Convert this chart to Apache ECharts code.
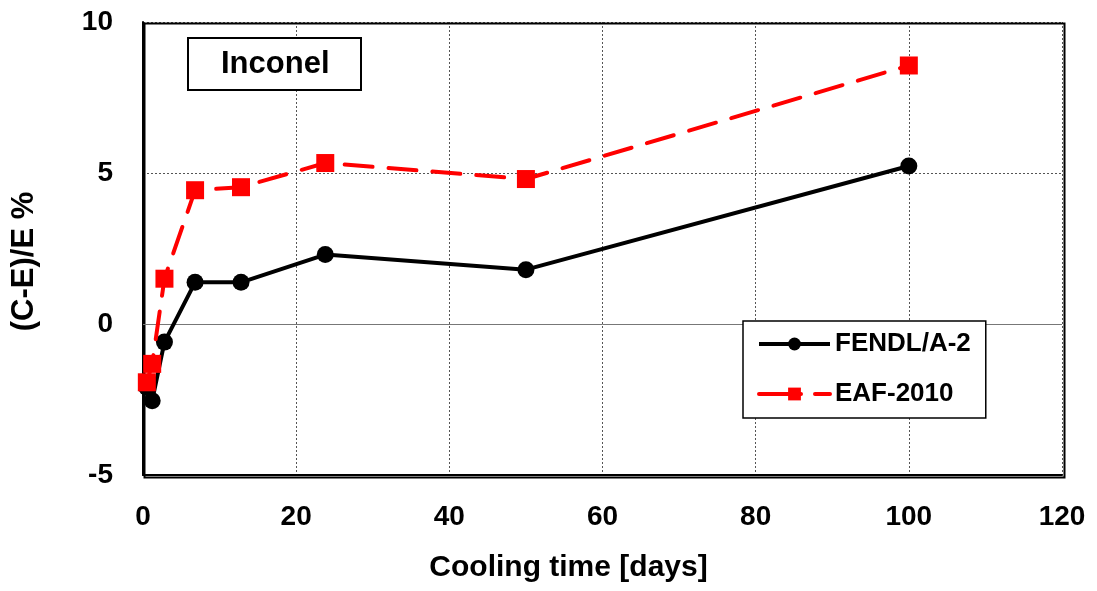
<!DOCTYPE html>
<html>
<head>
    <meta charset="UTF-8">
    <title>Inconel C/E</title>
    <script src="https://cdn.jsdelivr.net/npm/echarts@6/dist/echarts.min.js"></script>
    <style>html,body{margin:0;padding:0;background:#fff;} #chart{width:1097px;height:591px;}</style>
</head>
<body>
<div id="chart"></div>
<script>
    // cooling time [days]
    var coolingDays = [0.5, 1.2, 2.8, 6.8, 12.8, 23.8, 50, 100];
    var fendlValues = [-2.1, -2.54, -0.6, 1.38, 1.38, 2.3, 1.8, 5.23];
    var eafValues = [-1.93, -1.32, 1.5, 4.43, 4.53, 5.33, 4.8, 8.56];
    var xTicks = [0, 20, 40, 60, 80, 100, 120];
    var yTicks = [-5, 0, 5, 10];

    function pairs(xs, ys) {
        var res = [];
        for (var i = 0; i < xs.length; i++) res.push([xs[i], ys[i]]);
        return res;
    }

    var fontFamily = '"Liberation Sans", Arial, sans-serif';
    var myChart = echarts.init(document.getElementById('chart'));

    var option = {
        backgroundColor: '#fff',
        animation: false,
        title: {
            text: 'Inconel',
            left: 188,
            top: 38,
            padding: [11, 32, 10, 33],
            borderColor: '#000',
            borderWidth: 2,
            backgroundColor: '#fff',
            textStyle: {fontFamily: fontFamily, fontSize: 31, fontWeight: 'bold', color: '#000'}
        },
        legend: {
            orient: 'vertical',
            left: 743,
            top: 321,
            padding: [10, 15, 11, 14],
            itemWidth: 71,
            itemHeight: 16,
            itemGap: 24,
            borderColor: '#000',
            borderWidth: 1.5,
            backgroundColor: '#fff',
            textStyle: {fontFamily: fontFamily, fontSize: 26, fontWeight: 'bold', color: '#000'},
            data: [
                {name: 'FENDL/A-2', lineStyle: {width: 4}},
                {name: 'EAF-2010', lineStyle: {width: 4, type: [42, 14]}}
            ]
        },
        grid: {left: 143, right: 35, top: 22, bottom: 116},
        xAxis: {
            type: 'value',
            min: 0, max: 120, interval: 20,
            name: 'Cooling time [days]',
            nameLocation: 'middle',
            nameGap: 78,
            nameTextStyle: {fontFamily: fontFamily, fontSize: 30, fontWeight: 'bold', color: '#000', padding: [0, 68, 0, 0]},
            axisLine: {onZero: false, lineStyle: {color: '#000', width: 2}},
            axisTick: {show: false},
            axisLabel: {
                fontFamily: fontFamily, fontSize: 28, fontWeight: 'bold', color: '#000', margin: 28,
                formatter: function (v) { return xTicks.indexOf(v) >= 0 ? String(v) : ''; }
            },
            splitLine: {show: true, lineStyle: {color: '#555', type: [2, 2], width: 1}}
        },
        yAxis: {
            type: 'value',
            min: -5, max: 10, interval: 5,
            name: '(C-E)/E %',
            nameLocation: 'middle',
            nameGap: 103,
            nameTextStyle: {fontFamily: fontFamily, fontSize: 31, fontWeight: 'bold', color: '#000', padding: [0, 26, 0, 0]},
            axisLine: {show: true, onZero: false, lineStyle: {color: '#000', width: 2}},
            axisTick: {show: false},
            axisLabel: {
                fontFamily: fontFamily, fontSize: 28, fontWeight: 'bold', color: '#000', margin: 30,
                formatter: function (v) { return yTicks.indexOf(v) >= 0 ? String(v) : ''; }
            },
            splitLine: {show: true, lineStyle: {color: '#555', type: [2, 2], width: 1}}
        },
        graphic: [{
            type: 'rect',
            left: 142, top: 21,
            shape: {width: 920, height: 454},
            style: {fill: 'none', stroke: '#000', lineWidth: 2},
            silent: true,
            z: 1
        }],
        series: [
            {
                name: 'FENDL/A-2',
                type: 'line',
                data: pairs(coolingDays, fendlValues),
                symbol: 'circle',
                symbolSize: 17,
                lineStyle: {color: '#000', width: 4},
                itemStyle: {color: '#000'},
                z: 3,
                markLine: {
                    silent: true,
                    symbol: 'none',
                    label: {show: false},
                    lineStyle: {color: '#777', type: 'solid', width: 1},
                    data: [{yAxis: 0}],
                    z: 1
                }
            },
            {
                name: 'EAF-2010',
                type: 'line',
                data: pairs(coolingDays, eafValues),
                symbol: 'rect',
                symbolSize: 18,
                lineStyle: {color: '#f00', width: 4, type: [28, 16], cap: 'round'},
                itemStyle: {color: '#f00'},
                z: 4
            }
        ]
    };
    myChart.setOption(option);
</script>
</body>
</html>
